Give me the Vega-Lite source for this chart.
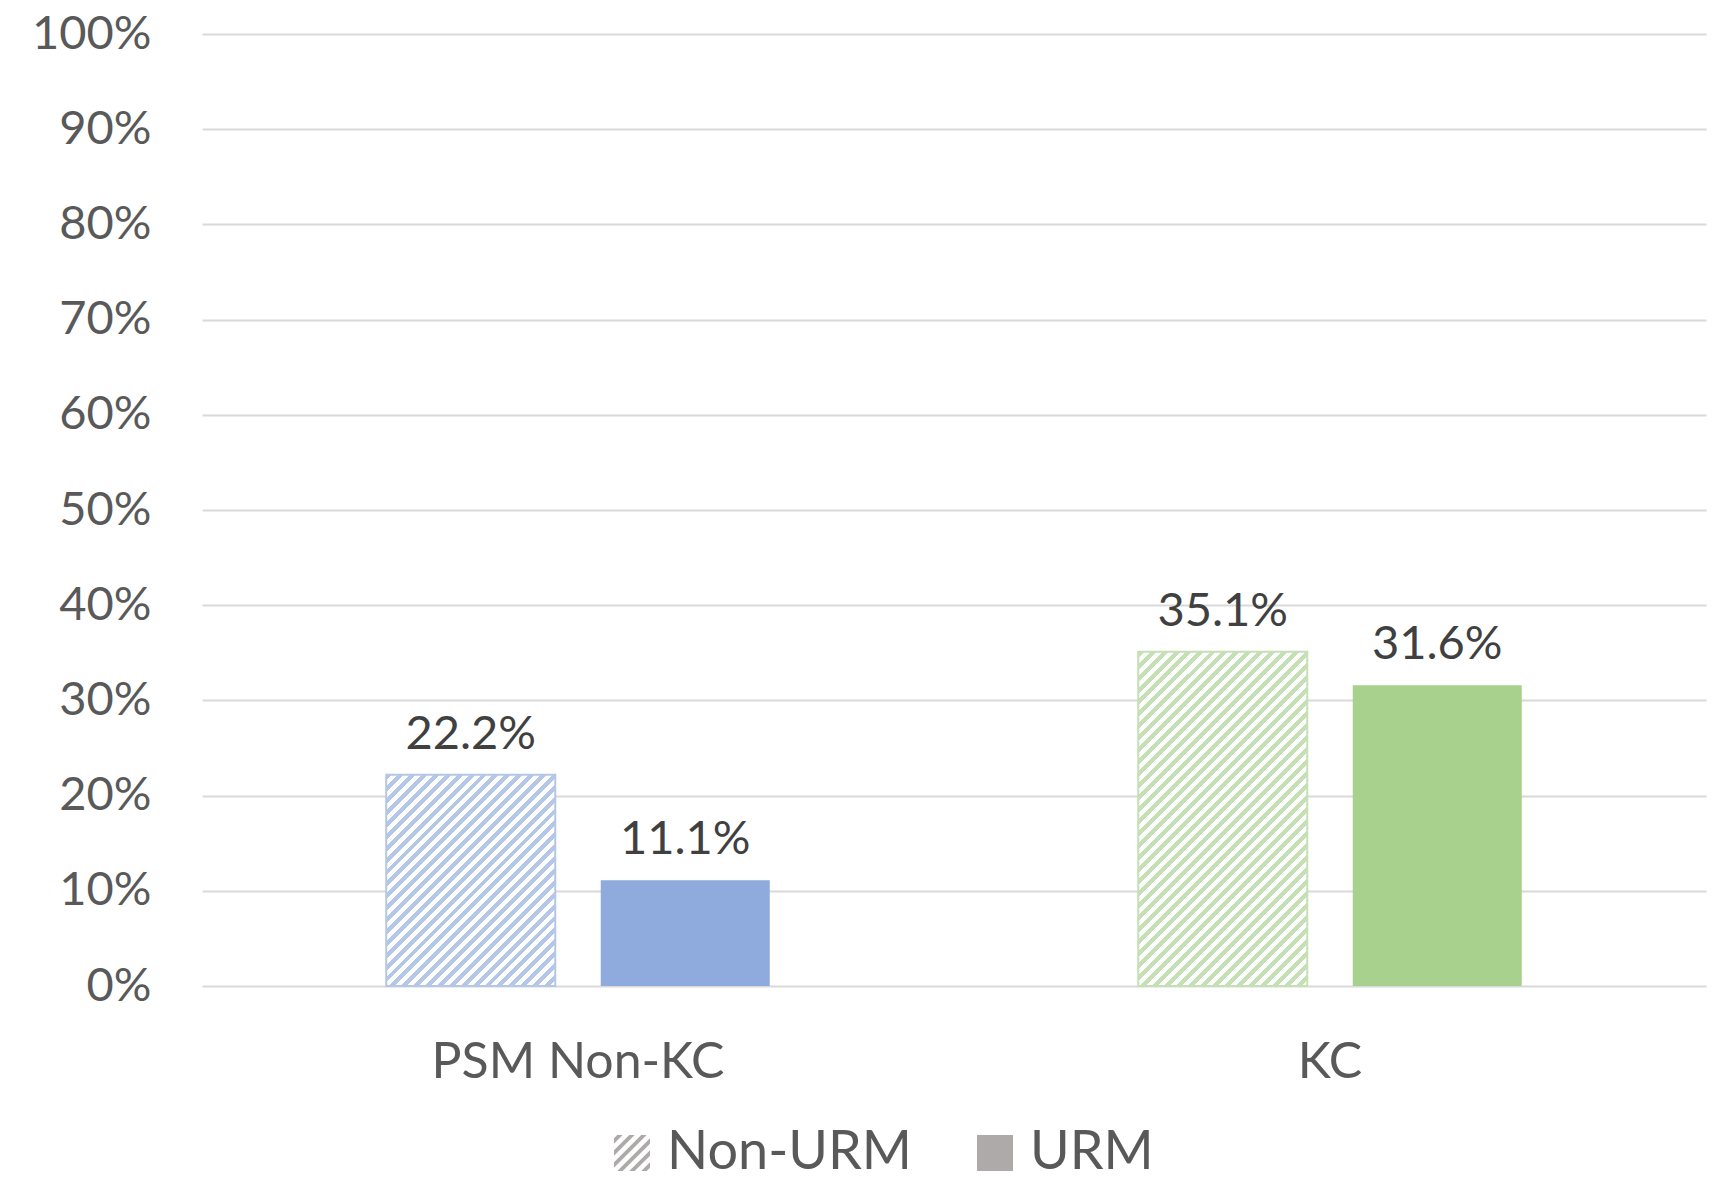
{
  "$schema": "https://vega.github.io/schema/vega-lite/v6.json",
  "autosize": {"type": "none"},
  "padding": {"left": 202, "top": 34, "right": 11, "bottom": 197},
  "width": 1504,
  "height": 952,
  "background": "#ffffff",
  "config": {"font": "Lato", "view": {"stroke": null}},
  "data": {"values": [
    {"group": "PSM Non-KC", "status": "Non-URM", "value": 0.222},
    {"group": "PSM Non-KC", "status": "URM", "value": 0.111},
    {"group": "KC", "status": "Non-URM", "value": 0.351},
    {"group": "KC", "status": "URM", "value": 0.316}
  ]},
  "encoding": {
    "x": {"field": "group", "type": "nominal", "scale": {"domain": ["PSM Non-KC", "KC"], "paddingInner": 0.49, "paddingOuter": 0.245},
      "axis": {"title": null, "labelAngle": 0, "domain": false, "ticks": false, "grid": false, "labelFontSize": 50, "labelColor": "#595959", "labelPadding": 51, "labelLimit": 800}},
    "xOffset": {"field": "status", "type": "nominal", "scale": {"domain": ["Non-URM", "URM"], "paddingInner": 0.212, "paddingOuter": 0}},
    "y": {"field": "value", "type": "quantitative", "scale": {"domain": [0, 1], "nice": false},
      "axis": {"title": null, "values": [0, 0.1, 0.2, 0.3, 0.4, 0.5, 0.6, 0.7, 0.8, 0.9, 1], "format": ".0%", "domain": false, "ticks": false, "labelFontSize": 47, "labelColor": "#595959", "labelPadding": 51, "gridColor": "#d9d9d9", "gridWidth": 2}}
  },
  "layer": [
    {
      "mark": {"type": "point", "filled": true, "color": "#aeaaaa", "opacity": 0},
      "encoding": {
        "shape": {"field": "status", "type": "nominal",
          "scale": {"domain": ["Non-URM", "URM"], "range": [
            "M-1 -0.82 L-0.82 -1 L-0.52 -1 L-1 -0.52 Z M-1 -0.153 L-0.153 -1 L0.147 -1 L-1 0.147 Z M-1 0.513 L0.513 -1 L0.813 -1 L-1 0.813 Z M-0.82 1 L1 -0.82 L1 -0.52 L-0.52 1 Z M-0.153 1 L1 -0.153 L1 0.147 L0.147 1 Z M0.513 1 L1 0.513 L1 0.813 L0.813 1 Z",
            "square"
          ]},
          "legend": {"title": null, "orient": "none", "legendX": 403, "legendY": 1092, "direction": "horizontal",
            "symbolSize": 1296, "symbolStrokeWidth": 0, "symbolOpacity": 1, "symbolFillColor": "#aeaaaa",
            "labelFontSize": 54, "labelColor": "#595959", "labelOffset": 8, "columnPadding": 56, "labelLimit": 400}
        }
      }
    },
    {
      "transform": [{"filter": "datum.status === 'URM'"}],
      "mark": {"type": "bar"},
      "encoding": {"fill": {"condition": {"test": "datum.group === 'KC'", "value": "#a9d18e"}, "value": "#8faadc"}}
    },
    {
      "transform": [{"filter": "datum.status === 'Non-URM' && datum.group === 'PSM Non-KC'"}],
      "mark": {"type": "bar", "stroke": "#b4c7e7", "strokeWidth": 2,
        "fill": {"gradient": "linear", "x1": 0, "y1": 0, "x2": 0.878, "y2": 1.098, "stops": [
          {"offset": 0, "color": "#b4c7e7"}, {"offset": 0.015625, "color": "#b4c7e7"}, {"offset": 0.015625, "color": "#ffffff"}, {"offset": 0.03125, "color": "#ffffff"},
          {"offset": 0.03125, "color": "#b4c7e7"}, {"offset": 0.046875, "color": "#b4c7e7"}, {"offset": 0.046875, "color": "#ffffff"}, {"offset": 0.0625, "color": "#ffffff"},
          {"offset": 0.0625, "color": "#b4c7e7"}, {"offset": 0.078125, "color": "#b4c7e7"}, {"offset": 0.078125, "color": "#ffffff"}, {"offset": 0.09375, "color": "#ffffff"},
          {"offset": 0.09375, "color": "#b4c7e7"}, {"offset": 0.109375, "color": "#b4c7e7"}, {"offset": 0.109375, "color": "#ffffff"}, {"offset": 0.125, "color": "#ffffff"},
          {"offset": 0.125, "color": "#b4c7e7"}, {"offset": 0.140625, "color": "#b4c7e7"}, {"offset": 0.140625, "color": "#ffffff"}, {"offset": 0.15625, "color": "#ffffff"},
          {"offset": 0.15625, "color": "#b4c7e7"}, {"offset": 0.171875, "color": "#b4c7e7"}, {"offset": 0.171875, "color": "#ffffff"}, {"offset": 0.1875, "color": "#ffffff"},
          {"offset": 0.1875, "color": "#b4c7e7"}, {"offset": 0.203125, "color": "#b4c7e7"}, {"offset": 0.203125, "color": "#ffffff"}, {"offset": 0.21875, "color": "#ffffff"},
          {"offset": 0.21875, "color": "#b4c7e7"}, {"offset": 0.234375, "color": "#b4c7e7"}, {"offset": 0.234375, "color": "#ffffff"}, {"offset": 0.25, "color": "#ffffff"},
          {"offset": 0.25, "color": "#b4c7e7"}, {"offset": 0.265625, "color": "#b4c7e7"}, {"offset": 0.265625, "color": "#ffffff"}, {"offset": 0.28125, "color": "#ffffff"},
          {"offset": 0.28125, "color": "#b4c7e7"}, {"offset": 0.296875, "color": "#b4c7e7"}, {"offset": 0.296875, "color": "#ffffff"}, {"offset": 0.3125, "color": "#ffffff"},
          {"offset": 0.3125, "color": "#b4c7e7"}, {"offset": 0.328125, "color": "#b4c7e7"}, {"offset": 0.328125, "color": "#ffffff"}, {"offset": 0.34375, "color": "#ffffff"},
          {"offset": 0.34375, "color": "#b4c7e7"}, {"offset": 0.359375, "color": "#b4c7e7"}, {"offset": 0.359375, "color": "#ffffff"}, {"offset": 0.375, "color": "#ffffff"},
          {"offset": 0.375, "color": "#b4c7e7"}, {"offset": 0.390625, "color": "#b4c7e7"}, {"offset": 0.390625, "color": "#ffffff"}, {"offset": 0.40625, "color": "#ffffff"},
          {"offset": 0.40625, "color": "#b4c7e7"}, {"offset": 0.421875, "color": "#b4c7e7"}, {"offset": 0.421875, "color": "#ffffff"}, {"offset": 0.4375, "color": "#ffffff"},
          {"offset": 0.4375, "color": "#b4c7e7"}, {"offset": 0.453125, "color": "#b4c7e7"}, {"offset": 0.453125, "color": "#ffffff"}, {"offset": 0.46875, "color": "#ffffff"},
          {"offset": 0.46875, "color": "#b4c7e7"}, {"offset": 0.484375, "color": "#b4c7e7"}, {"offset": 0.484375, "color": "#ffffff"}, {"offset": 0.5, "color": "#ffffff"},
          {"offset": 0.5, "color": "#b4c7e7"}, {"offset": 0.515625, "color": "#b4c7e7"}, {"offset": 0.515625, "color": "#ffffff"}, {"offset": 0.53125, "color": "#ffffff"},
          {"offset": 0.53125, "color": "#b4c7e7"}, {"offset": 0.546875, "color": "#b4c7e7"}, {"offset": 0.546875, "color": "#ffffff"}, {"offset": 0.5625, "color": "#ffffff"},
          {"offset": 0.5625, "color": "#b4c7e7"}, {"offset": 0.578125, "color": "#b4c7e7"}, {"offset": 0.578125, "color": "#ffffff"}, {"offset": 0.59375, "color": "#ffffff"},
          {"offset": 0.59375, "color": "#b4c7e7"}, {"offset": 0.609375, "color": "#b4c7e7"}, {"offset": 0.609375, "color": "#ffffff"}, {"offset": 0.625, "color": "#ffffff"},
          {"offset": 0.625, "color": "#b4c7e7"}, {"offset": 0.640625, "color": "#b4c7e7"}, {"offset": 0.640625, "color": "#ffffff"}, {"offset": 0.65625, "color": "#ffffff"},
          {"offset": 0.65625, "color": "#b4c7e7"}, {"offset": 0.671875, "color": "#b4c7e7"}, {"offset": 0.671875, "color": "#ffffff"}, {"offset": 0.6875, "color": "#ffffff"},
          {"offset": 0.6875, "color": "#b4c7e7"}, {"offset": 0.703125, "color": "#b4c7e7"}, {"offset": 0.703125, "color": "#ffffff"}, {"offset": 0.71875, "color": "#ffffff"},
          {"offset": 0.71875, "color": "#b4c7e7"}, {"offset": 0.734375, "color": "#b4c7e7"}, {"offset": 0.734375, "color": "#ffffff"}, {"offset": 0.75, "color": "#ffffff"},
          {"offset": 0.75, "color": "#b4c7e7"}, {"offset": 0.765625, "color": "#b4c7e7"}, {"offset": 0.765625, "color": "#ffffff"}, {"offset": 0.78125, "color": "#ffffff"},
          {"offset": 0.78125, "color": "#b4c7e7"}, {"offset": 0.796875, "color": "#b4c7e7"}, {"offset": 0.796875, "color": "#ffffff"}, {"offset": 0.8125, "color": "#ffffff"},
          {"offset": 0.8125, "color": "#b4c7e7"}, {"offset": 0.828125, "color": "#b4c7e7"}, {"offset": 0.828125, "color": "#ffffff"}, {"offset": 0.84375, "color": "#ffffff"},
          {"offset": 0.84375, "color": "#b4c7e7"}, {"offset": 0.859375, "color": "#b4c7e7"}, {"offset": 0.859375, "color": "#ffffff"}, {"offset": 0.875, "color": "#ffffff"},
          {"offset": 0.875, "color": "#b4c7e7"}, {"offset": 0.890625, "color": "#b4c7e7"}, {"offset": 0.890625, "color": "#ffffff"}, {"offset": 0.90625, "color": "#ffffff"},
          {"offset": 0.90625, "color": "#b4c7e7"}, {"offset": 0.921875, "color": "#b4c7e7"}, {"offset": 0.921875, "color": "#ffffff"}, {"offset": 0.9375, "color": "#ffffff"},
          {"offset": 0.9375, "color": "#b4c7e7"}, {"offset": 0.953125, "color": "#b4c7e7"}, {"offset": 0.953125, "color": "#ffffff"}, {"offset": 0.96875, "color": "#ffffff"},
          {"offset": 0.96875, "color": "#b4c7e7"}, {"offset": 0.984375, "color": "#b4c7e7"}, {"offset": 0.984375, "color": "#ffffff"}, {"offset": 1, "color": "#ffffff"}
        ]}}
    },
    {
      "transform": [{"filter": "datum.status === 'Non-URM' && datum.group === 'KC'"}],
      "mark": {"type": "bar", "stroke": "#c5e0b4", "strokeWidth": 2,
        "fill": {"gradient": "linear", "x1": 0, "y1": 0, "x2": 0.6064, "y2": 1.1991, "stops": [
          {"offset": 0, "color": "#c5e0b4"}, {"offset": 0.0119, "color": "#c5e0b4"}, {"offset": 0.0119, "color": "#ffffff"}, {"offset": 0.0238, "color": "#ffffff"},
          {"offset": 0.0238, "color": "#c5e0b4"}, {"offset": 0.0357, "color": "#c5e0b4"}, {"offset": 0.0357, "color": "#ffffff"}, {"offset": 0.0476, "color": "#ffffff"},
          {"offset": 0.0476, "color": "#c5e0b4"}, {"offset": 0.0595, "color": "#c5e0b4"}, {"offset": 0.0595, "color": "#ffffff"}, {"offset": 0.0714, "color": "#ffffff"},
          {"offset": 0.0714, "color": "#c5e0b4"}, {"offset": 0.0833, "color": "#c5e0b4"}, {"offset": 0.0833, "color": "#ffffff"}, {"offset": 0.0952, "color": "#ffffff"},
          {"offset": 0.0952, "color": "#c5e0b4"}, {"offset": 0.1071, "color": "#c5e0b4"}, {"offset": 0.1071, "color": "#ffffff"}, {"offset": 0.119, "color": "#ffffff"},
          {"offset": 0.119, "color": "#c5e0b4"}, {"offset": 0.1309, "color": "#c5e0b4"}, {"offset": 0.1309, "color": "#ffffff"}, {"offset": 0.1429, "color": "#ffffff"},
          {"offset": 0.1429, "color": "#c5e0b4"}, {"offset": 0.1548, "color": "#c5e0b4"}, {"offset": 0.1548, "color": "#ffffff"}, {"offset": 0.1667, "color": "#ffffff"},
          {"offset": 0.1667, "color": "#c5e0b4"}, {"offset": 0.1786, "color": "#c5e0b4"}, {"offset": 0.1786, "color": "#ffffff"}, {"offset": 0.1905, "color": "#ffffff"},
          {"offset": 0.1905, "color": "#c5e0b4"}, {"offset": 0.2024, "color": "#c5e0b4"}, {"offset": 0.2024, "color": "#ffffff"}, {"offset": 0.2143, "color": "#ffffff"},
          {"offset": 0.2143, "color": "#c5e0b4"}, {"offset": 0.2262, "color": "#c5e0b4"}, {"offset": 0.2262, "color": "#ffffff"}, {"offset": 0.2381, "color": "#ffffff"},
          {"offset": 0.2381, "color": "#c5e0b4"}, {"offset": 0.25, "color": "#c5e0b4"}, {"offset": 0.25, "color": "#ffffff"}, {"offset": 0.2619, "color": "#ffffff"},
          {"offset": 0.2619, "color": "#c5e0b4"}, {"offset": 0.2738, "color": "#c5e0b4"}, {"offset": 0.2738, "color": "#ffffff"}, {"offset": 0.2857, "color": "#ffffff"},
          {"offset": 0.2857, "color": "#c5e0b4"}, {"offset": 0.2976, "color": "#c5e0b4"}, {"offset": 0.2976, "color": "#ffffff"}, {"offset": 0.3095, "color": "#ffffff"},
          {"offset": 0.3095, "color": "#c5e0b4"}, {"offset": 0.3214, "color": "#c5e0b4"}, {"offset": 0.3214, "color": "#ffffff"}, {"offset": 0.3333, "color": "#ffffff"},
          {"offset": 0.3333, "color": "#c5e0b4"}, {"offset": 0.3452, "color": "#c5e0b4"}, {"offset": 0.3452, "color": "#ffffff"}, {"offset": 0.3571, "color": "#ffffff"},
          {"offset": 0.3571, "color": "#c5e0b4"}, {"offset": 0.369, "color": "#c5e0b4"}, {"offset": 0.369, "color": "#ffffff"}, {"offset": 0.381, "color": "#ffffff"},
          {"offset": 0.381, "color": "#c5e0b4"}, {"offset": 0.3929, "color": "#c5e0b4"}, {"offset": 0.3929, "color": "#ffffff"}, {"offset": 0.4048, "color": "#ffffff"},
          {"offset": 0.4048, "color": "#c5e0b4"}, {"offset": 0.4167, "color": "#c5e0b4"}, {"offset": 0.4167, "color": "#ffffff"}, {"offset": 0.4286, "color": "#ffffff"},
          {"offset": 0.4286, "color": "#c5e0b4"}, {"offset": 0.4405, "color": "#c5e0b4"}, {"offset": 0.4405, "color": "#ffffff"}, {"offset": 0.4524, "color": "#ffffff"},
          {"offset": 0.4524, "color": "#c5e0b4"}, {"offset": 0.4643, "color": "#c5e0b4"}, {"offset": 0.4643, "color": "#ffffff"}, {"offset": 0.4762, "color": "#ffffff"},
          {"offset": 0.4762, "color": "#c5e0b4"}, {"offset": 0.4881, "color": "#c5e0b4"}, {"offset": 0.4881, "color": "#ffffff"}, {"offset": 0.5, "color": "#ffffff"},
          {"offset": 0.5, "color": "#c5e0b4"}, {"offset": 0.5119, "color": "#c5e0b4"}, {"offset": 0.5119, "color": "#ffffff"}, {"offset": 0.5238, "color": "#ffffff"},
          {"offset": 0.5238, "color": "#c5e0b4"}, {"offset": 0.5357, "color": "#c5e0b4"}, {"offset": 0.5357, "color": "#ffffff"}, {"offset": 0.5476, "color": "#ffffff"},
          {"offset": 0.5476, "color": "#c5e0b4"}, {"offset": 0.5595, "color": "#c5e0b4"}, {"offset": 0.5595, "color": "#ffffff"}, {"offset": 0.5714, "color": "#ffffff"},
          {"offset": 0.5714, "color": "#c5e0b4"}, {"offset": 0.5833, "color": "#c5e0b4"}, {"offset": 0.5833, "color": "#ffffff"}, {"offset": 0.5952, "color": "#ffffff"},
          {"offset": 0.5952, "color": "#c5e0b4"}, {"offset": 0.6071, "color": "#c5e0b4"}, {"offset": 0.6071, "color": "#ffffff"}, {"offset": 0.619, "color": "#ffffff"},
          {"offset": 0.619, "color": "#c5e0b4"}, {"offset": 0.6309, "color": "#c5e0b4"}, {"offset": 0.6309, "color": "#ffffff"}, {"offset": 0.6429, "color": "#ffffff"},
          {"offset": 0.6429, "color": "#c5e0b4"}, {"offset": 0.6548, "color": "#c5e0b4"}, {"offset": 0.6548, "color": "#ffffff"}, {"offset": 0.6667, "color": "#ffffff"},
          {"offset": 0.6667, "color": "#c5e0b4"}, {"offset": 0.6786, "color": "#c5e0b4"}, {"offset": 0.6786, "color": "#ffffff"}, {"offset": 0.6905, "color": "#ffffff"},
          {"offset": 0.6905, "color": "#c5e0b4"}, {"offset": 0.7024, "color": "#c5e0b4"}, {"offset": 0.7024, "color": "#ffffff"}, {"offset": 0.7143, "color": "#ffffff"},
          {"offset": 0.7143, "color": "#c5e0b4"}, {"offset": 0.7262, "color": "#c5e0b4"}, {"offset": 0.7262, "color": "#ffffff"}, {"offset": 0.7381, "color": "#ffffff"},
          {"offset": 0.7381, "color": "#c5e0b4"}, {"offset": 0.75, "color": "#c5e0b4"}, {"offset": 0.75, "color": "#ffffff"}, {"offset": 0.7619, "color": "#ffffff"},
          {"offset": 0.7619, "color": "#c5e0b4"}, {"offset": 0.7738, "color": "#c5e0b4"}, {"offset": 0.7738, "color": "#ffffff"}, {"offset": 0.7857, "color": "#ffffff"},
          {"offset": 0.7857, "color": "#c5e0b4"}, {"offset": 0.7976, "color": "#c5e0b4"}, {"offset": 0.7976, "color": "#ffffff"}, {"offset": 0.8095, "color": "#ffffff"},
          {"offset": 0.8095, "color": "#c5e0b4"}, {"offset": 0.8214, "color": "#c5e0b4"}, {"offset": 0.8214, "color": "#ffffff"}, {"offset": 0.8333, "color": "#ffffff"},
          {"offset": 0.8333, "color": "#c5e0b4"}, {"offset": 0.8452, "color": "#c5e0b4"}, {"offset": 0.8452, "color": "#ffffff"}, {"offset": 0.8571, "color": "#ffffff"},
          {"offset": 0.8571, "color": "#c5e0b4"}, {"offset": 0.869, "color": "#c5e0b4"}, {"offset": 0.869, "color": "#ffffff"}, {"offset": 0.881, "color": "#ffffff"},
          {"offset": 0.881, "color": "#c5e0b4"}, {"offset": 0.8929, "color": "#c5e0b4"}, {"offset": 0.8929, "color": "#ffffff"}, {"offset": 0.9048, "color": "#ffffff"},
          {"offset": 0.9048, "color": "#c5e0b4"}, {"offset": 0.9167, "color": "#c5e0b4"}, {"offset": 0.9167, "color": "#ffffff"}, {"offset": 0.9286, "color": "#ffffff"},
          {"offset": 0.9286, "color": "#c5e0b4"}, {"offset": 0.9405, "color": "#c5e0b4"}, {"offset": 0.9405, "color": "#ffffff"}, {"offset": 0.9524, "color": "#ffffff"},
          {"offset": 0.9524, "color": "#c5e0b4"}, {"offset": 0.9643, "color": "#c5e0b4"}, {"offset": 0.9643, "color": "#ffffff"}, {"offset": 0.9762, "color": "#ffffff"},
          {"offset": 0.9762, "color": "#c5e0b4"}, {"offset": 0.9881, "color": "#c5e0b4"}, {"offset": 0.9881, "color": "#ffffff"}, {"offset": 1, "color": "#ffffff"}
        ]}}
    },
    {
      "mark": {"type": "text", "baseline": "alphabetic", "dy": -26, "fontSize": 47, "color": "#404040"},
      "encoding": {
        "text": {"field": "value", "type": "quantitative", "format": ".1%"}
      }
    }
  ]
}
